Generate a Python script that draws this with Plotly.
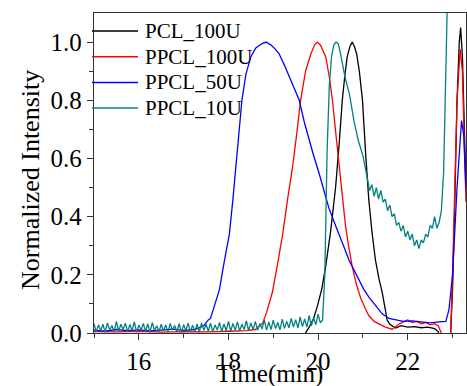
import plotly.graph_objects as go

# ---- GPC traces: elution time (min) vs normalized RI intensity ----

# PPCL_10U baseline (noisy), 15.00 .. 20.10 min every 0.05 min
teal_base_t = [round(15.0 + 0.05 * k, 2) for k in range(103)]
teal_base_y = [
    0.032, 0.004, 0.028, 0.008, 0.030, 0.002, 0.035, 0.010, 0.026, 0.005,
    0.040, 0.006, 0.030, 0.012, 0.034, 0.004, 0.029, 0.008, 0.038, 0.003,
    0.027, 0.010, 0.033, 0.005, 0.031, 0.002, 0.036, 0.009, 0.025, 0.004,
    0.030, 0.007, 0.028, 0.003, 0.033, 0.010, 0.026, 0.005, 0.032, 0.002,
    0.029, 0.008, 0.034, 0.004, 0.027, 0.006, 0.031, 0.003, 0.035, 0.009,
    0.030, 0.006, 0.034, 0.004, 0.028, 0.010, 0.036, 0.005, 0.031, 0.008,
    0.040, 0.006, 0.033, 0.010, 0.038, 0.007, 0.030, 0.012, 0.042, 0.008,
    0.035, 0.011, 0.040, 0.009, 0.033, 0.014, 0.045, 0.010, 0.038, 0.012,
    0.044, 0.015, 0.036, 0.011, 0.048, 0.016, 0.040, 0.018, 0.050, 0.020,
    0.046, 0.017, 0.055, 0.022, 0.048, 0.020, 0.060, 0.025, 0.052, 0.028,
    0.065, 0.035, 0.045,
]
teal_peak_t = [20.15, 20.20, 20.25, 20.30, 20.35, 20.40, 20.45, 20.50, 20.55,
               20.60, 20.70, 20.80, 20.90, 21.00, 21.10, 21.15, 21.20, 21.25,
               21.30, 21.35, 21.40, 21.45, 21.50, 21.55, 21.60, 21.65, 21.70,
               21.75, 21.80, 21.85, 21.90, 21.95, 22.00, 22.05, 22.10, 22.15,
               22.20, 22.25, 22.30, 22.35, 22.40, 22.45, 22.50, 22.55, 22.60,
               22.65, 22.70, 22.75, 22.80, 22.85, 22.90, 22.95, 23.30]
teal_peak_y = [0.20, 0.62, 0.85, 0.95, 0.99, 1.00, 0.995, 0.96, 0.92,
               0.88, 0.82, 0.73, 0.66, 0.61, 0.53, 0.49, 0.51, 0.47,
               0.50, 0.46, 0.49, 0.45, 0.46, 0.42, 0.44, 0.40, 0.41,
               0.37, 0.38, 0.35, 0.37, 0.33, 0.35, 0.32, 0.34, 0.30,
               0.32, 0.29, 0.32, 0.31, 0.34, 0.33, 0.37, 0.36, 0.40,
               0.36, 0.38, 0.42, 0.55, 0.85, 1.20, 1.60, 1.60]
t_10U = teal_base_t + teal_peak_t
y_10U = teal_base_y + teal_peak_y

# PCL_100U
t_pcl100 = [15.00, 19.60, 19.70, 19.80, 19.90, 19.98, 20.08, 20.17, 20.28,
            20.39, 20.47, 20.54, 20.60, 20.65, 20.71, 20.76, 20.81, 20.86,
            20.92, 20.99, 21.06, 21.13, 21.20, 21.28, 21.36, 21.43, 21.50,
            21.54, 21.60, 21.73, 21.85, 22.00, 22.15, 22.30, 22.45, 22.60,
            22.68, 22.75, 22.95, 23.00, 23.05, 23.10, 23.15, 23.18, 23.22,
            23.26, 23.30]
y_pcl100 = [-0.020, -0.020, -0.005, 0.020, 0.050, 0.090, 0.150, 0.230, 0.350,
            0.500, 0.650, 0.800, 0.890, 0.950, 0.985, 1.000, 0.985, 0.960,
            0.900, 0.800, 0.620, 0.460, 0.350, 0.250, 0.185, 0.140, 0.080,
            0.045, 0.030, 0.017, 0.025, 0.020, 0.022, 0.018, 0.020, 0.015,
            0.005, -0.030, -0.030, 0.150, 0.450, 0.800, 1.000, 1.050, 0.950,
            0.700, 0.500]

# PPCL_100U
t_ppcl100 = [15.00, 15.50, 16.00, 16.50, 17.00, 17.50, 18.00, 18.40, 18.60,
             18.76, 18.85, 18.98, 19.10, 19.21, 19.32, 19.43, 19.52, 19.61,
             19.72, 19.84, 19.92, 19.98, 20.05, 20.17, 20.25, 20.32, 20.40,
             20.47, 20.54, 20.61, 20.68, 20.76, 20.85, 20.95, 21.05, 21.13,
             21.25, 21.36, 21.50, 21.65, 21.80, 21.90, 22.00, 22.10, 22.20,
             22.30, 22.40, 22.50, 22.60, 22.68, 22.75, 22.80, 22.95, 23.00,
             23.05, 23.10, 23.17, 23.22, 23.27, 23.30]
y_ppcl100 = [0.005, 0.004, 0.006, 0.003, 0.005, 0.004, 0.006, 0.008, 0.012,
             0.033, 0.070, 0.140, 0.240, 0.340, 0.460, 0.570, 0.680, 0.800,
             0.900, 0.960, 0.990, 1.000, 0.990, 0.950, 0.880, 0.800, 0.680,
             0.570, 0.470, 0.370, 0.300, 0.230, 0.170, 0.120, 0.085, 0.060,
             0.040, 0.030, 0.020, 0.013, 0.030, 0.038, 0.045, 0.036, 0.040,
             0.032, 0.036, 0.028, 0.032, 0.025, 0.000, -0.030, -0.030, 0.200,
             0.500, 0.800, 0.975, 0.900, 0.600, 0.450]

# PPCL_50U
t_ppcl50 = [15.00, 15.25, 15.50, 15.75, 16.00, 16.25, 16.50, 16.75, 17.00,
            17.25, 17.45, 17.55, 17.60, 17.70, 17.80, 17.90, 18.02, 18.10,
            18.17, 18.24, 18.30, 18.39, 18.50, 18.61, 18.75, 18.84, 18.95,
            19.05, 19.13, 19.25, 19.36, 19.47, 19.58, 19.70, 19.80, 19.90,
            20.02, 20.13, 20.24, 20.35, 20.47, 20.58, 20.69, 20.80, 20.91,
            21.02, 21.13, 21.28, 21.43, 21.58, 21.73, 21.90, 22.10, 22.30,
            22.50, 22.70, 22.85, 22.92, 23.00, 23.10, 23.20, 23.25, 23.30]
y_ppcl50 = [0.010, 0.006, 0.012, 0.008, 0.011, 0.007, 0.010, 0.013, 0.009,
            0.012, 0.025, 0.045, 0.050, 0.100, 0.150, 0.240, 0.340, 0.460,
            0.570, 0.700, 0.800, 0.890, 0.950, 0.980, 0.995, 1.000, 0.990,
            0.975, 0.960, 0.920, 0.880, 0.840, 0.800, 0.720, 0.660, 0.610,
            0.550, 0.490, 0.430, 0.385, 0.340, 0.295, 0.250, 0.215, 0.180,
            0.150, 0.124, 0.095, 0.066, 0.050, 0.045, 0.040, 0.042, 0.038,
            0.035, 0.038, 0.040, 0.080, 0.200, 0.500, 0.730, 0.680, 0.500]

# axis ticks
x_tickvals = [16, 18, 20, 22]
x_ticktext = ["16", "18", "20", "22"]
y_tickvals = [0.0, 0.2, 0.4, 0.6, 0.8, 1.0]
y_ticktext = ["0.0", "0.2", "0.4", "0.6", "0.8", "1.0"]

series = [
    ("PCL_100U", t_pcl100, y_pcl100, "#000000"),
    ("PPCL_100U", t_ppcl100, y_ppcl100, "#ff0000"),
    ("PPCL_50U", t_ppcl50, y_ppcl50, "#0000ff"),
    ("PPCL_10U", t_10U, y_10U, "#008080"),
]

FONT = "Liberation Serif"
TICKFONT = dict(family="Times New Roman", size=25, color="#000000",
                weight="normal", style="normal")

W, H = 467, 386
ML, MR, MT, MB = 94, 1, 13, 53
PW, PH = W - ML - MR, H - MT - MB


def px_x(p):
    return (p - ML) / PW


def px_y(p):
    return (H - MB - p) / PH


fig = go.Figure()
for name, t, y, color in series:
    fig.add_trace(go.Scatter(x=t, y=y, mode="lines", name=name,
                             line=dict(color=color, width=1.3),
                             showlegend=False))

# legend drawn as line samples + labels in the upper-left corner
for i, (name, _, _, color) in enumerate(series):
    row = 31 + 25.7 * i
    fig.add_shape(type="line", xref="paper", yref="paper",
                  x0=px_x(92), x1=px_x(138), y0=px_y(row), y1=px_y(row),
                  line=dict(color=color, width=1.5))
    fig.add_annotation(xref="paper", yref="paper", x=px_x(143), y=px_y(row),
                       xanchor="left", yanchor="middle", showarrow=False,
                       text=name, font=dict(family=FONT, size=21,
                                            color="#000000"))

# axis titles
fig.add_annotation(xref="paper", yref="paper", x=px_x(269), y=px_y(373.5),
                   xanchor="center", yanchor="middle", showarrow=False,
                   text="Time(min)", font=dict(family=FONT, size=25,
                                               color="#000000"))
fig.add_annotation(xref="paper", yref="paper", x=px_x(30), y=px_y(180),
                   xanchor="center", yanchor="middle", showarrow=False,
                   textangle=-90, text="Normalized Intensity",
                   font=dict(family=FONT, size=26, color="#000000"))

frame = dict(
    showline=True, linecolor="#333333", linewidth=1.3, mirror=True,
    ticks="outside", ticklen=6, tickwidth=1.2, tickcolor="#333333",
    showgrid=False, zeroline=False,
)

fig.update_layout(
    template="none",
    width=W, height=H,
    margin=dict(l=ML, r=MR, t=MT, b=MB),
    paper_bgcolor="white", plot_bgcolor="white",
    font=dict(family=FONT, size=25, color="#000000"),
    showlegend=False,
    xaxis=dict(
        range=[15, 23.3], tickmode="array", tickvals=x_tickvals,
        ticktext=x_ticktext, tickfont=TICKFONT,
        minor=dict(ticks="outside", tickvals=[15, 17, 19, 21, 23], ticklen=4,
                   tickcolor="#333333", tickwidth=1.2),
        **frame,
    ),
    yaxis=dict(
        range=[0, 1.1], tickmode="array", tickvals=y_tickvals,
        ticktext=y_ticktext, tickfont=TICKFONT,
        minor=dict(ticks="outside", tickvals=[0.1, 0.3, 0.5, 0.7, 0.9],
                   ticklen=4, tickcolor="#333333", tickwidth=1.2),
        **frame,
    ),
)

fig.write_html("out.html")
